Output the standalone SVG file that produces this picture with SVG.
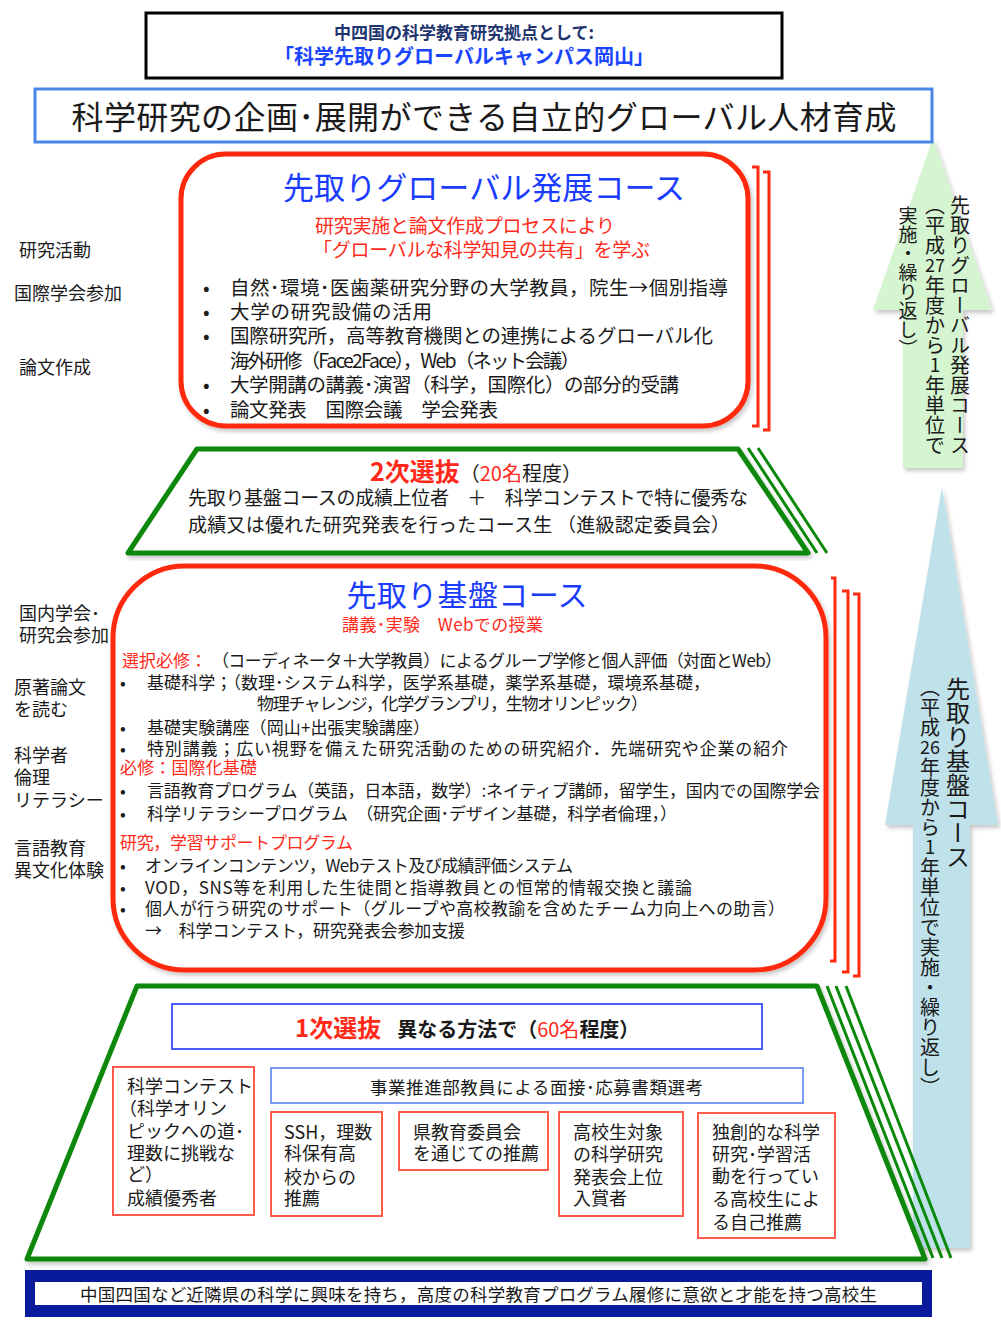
<svg xmlns="http://www.w3.org/2000/svg" width="1001" height="1336" viewBox="0 0 1001 1336">
<defs>
<filter id="sh" x="-5%" y="-5%" width="110%" height="112%"><feDropShadow dx="2" dy="3" stdDeviation="2" flood-color="#000" flood-opacity="0.22"/></filter>
</defs>
<style>
text{font-family:"Noto Sans CJK JP","Noto Sans CJK SC",sans-serif;fill:#1a1a1a}
.red{fill:#ff2a1a}
.blue{fill:#1a3cff}
.b{font-weight:bold}
.rbox{fill:#fff;stroke:#ff2a0f;stroke-width:5}
.brk{fill:none;stroke:#ff2a0f;stroke-width:3}
.grn{fill:#fff;stroke:#0a880a;stroke-width:5;stroke-linejoin:round}
.gln{stroke:#0a880a;stroke-width:3}
.sbox{fill:#fff;stroke:#ff5a4a;stroke-width:2}
.f17{font-size:17px}
.f18{font-size:18px}
.f19{font-size:19px}
.f195{font-size:19.5px}
.v{writing-mode:vertical-rl}
</style>
<rect width="1001" height="1336" fill="#fff"/>

<g id="connectors">
  <path d="M933,138 L992,310 L963,310 L963,468 L903,468 L903,310 L873,310 Z" fill="#d4f5cf" filter="url(#sh)"/>
  <path d="M942,487 L998,825 L970,825 L970,1248 L913,1248 L913,825 L885,825 Z" fill="#bfe1ea" filter="url(#sh)"/>
</g>

<g id="arrow-advanced-label">
  <text class="v" x="960" y="195" style="font-size:20px">先取りグローバル発展コース</text>
  <text class="v" x="935" y="195" style="font-size:20px">（平成</text>
  <text x="935" y="272" text-anchor="middle" style="font-size:18px">27</text>
  <text class="v" x="935" y="275" style="font-size:20px">年度から</text>
  <text x="935" y="372" text-anchor="middle" style="font-size:19px">1</text>
  <text class="v" x="935" y="375" style="font-size:20px">年単位で</text>
  <text class="v" x="908" y="206" style="font-size:19px">実施・繰り返し）</text>
</g>

<g id="arrow-basic-label">
  <text class="v" x="958" y="677" style="font-size:24px">先取り基盤コース</text>
  <text class="v" x="930" y="677" style="font-size:20px">（平成</text>
  <text x="930" y="754" text-anchor="middle" style="font-size:18px">26</text>
  <text class="v" x="930" y="757" style="font-size:20px">年度から</text>
  <text x="930" y="854" text-anchor="middle" style="font-size:19px">1</text>
  <text class="v" x="930" y="857" style="font-size:20px">年単位で実施・繰り返し）</text>
</g>

<g id="header">
  <rect x="146" y="13" width="636" height="65" fill="#fff" stroke="#000" stroke-width="3"/>
  <text x="464" y="39" text-anchor="middle" class="b" style="font-size:17px;fill:#1f3570">中四国の科学教育研究拠点として:</text>
  <text x="464" y="64" text-anchor="middle" class="b" style="font-size:20px;fill:#1a45ff">「科学先取りグローバルキャンパス岡山」</text>
</g>

<g id="goal">
  <rect x="35" y="89" width="897" height="53" fill="#fff" stroke="#4a86e8" stroke-width="3"/>
  <text x="484" y="129" text-anchor="middle" style="font-size:32px" textLength="825">科学研究の企画･展開ができる自立的グローバル人材育成</text>
</g>

<g id="course-advanced">
  <rect class="rbox" x="181" y="154" width="567" height="272" rx="45" filter="url(#sh)"/>
  <path class="brk" d="M752,167 H758 V426 H752"/>
  <path class="brk" d="M763,172 H769 V430 H763"/>
  <text x="484" y="199" text-anchor="middle" class="blue" style="font-size:31px" textLength="402">先取りグローバル発展コース</text>
  <text x="315" y="233" class="red f19" textLength="300">研究実施と論文作成プロセスにより</text>
  <text x="313" y="257" class="red f19" textLength="337">「グローバルな科学知見の共有」を学ぶ</text>
  <g class="f195">
    <text x="203" y="295">•</text><text x="230" y="295" textLength="498">自然･環境･医歯薬研究分野の大学教員，院生→個別指導</text>
    <text x="203" y="319">•</text><text x="230" y="319" textLength="202">大学の研究設備の活用</text>
    <text x="203" y="343">•</text><text x="230" y="343" textLength="483">国際研究所，高等教育機関との連携によるグローバル化</text>
    <text x="230" y="368" textLength="350">海外研修（Face2Face），Web（ネット会議）</text>
    <text x="203" y="392">•</text><text x="230" y="392" textLength="449">大学開講の講義･演習（科学，国際化）の部分的受講</text>
    <text x="203" y="417">•</text><text x="230" y="417" textLength="268">論文発表　国際会議　学会発表</text>
  </g>
</g>

<g id="labels-advanced" class="f18">
  <text x="19" y="257">研究活動</text>
  <text x="14" y="300">国際学会参加</text>
  <text x="19" y="374">論文作成</text>
</g>

<g id="selection-2">
  <polygon class="grn" points="197,449 738,449 808,553 128,553" filter="url(#sh)"/>
  <line class="gln" x1="748" y1="448" x2="817" y2="553"/>
  <line class="gln" x1="758" y1="448" x2="827" y2="553"/>
  <text x="370" y="481"><tspan class="red b" style="font-size:25px">2次選抜</tspan><tspan style="font-size:20px">（</tspan><tspan class="red" style="font-size:20px">20名</tspan><tspan style="font-size:20px">程度）</tspan></text>
  <text x="188" y="505" class="f19" textLength="560">先取り基盤コースの成績上位者　＋　科学コンテストで特に優秀な</text>
  <text x="188" y="532" class="f19" textLength="542">成績又は優れた研究発表を行ったコース生 （進級認定委員会）</text>
</g>

<g id="course-basic">
  <rect class="rbox" x="113" y="566" width="713" height="404" rx="72" filter="url(#sh)"/>
  <path class="brk" d="M831,578 H835 V961 H830"/>
  <path class="brk" d="M842,591 H848 V972 H842"/>
  <path class="brk" d="M853,594 H859 V976 H853"/>
  <text x="467" y="606" text-anchor="middle" class="blue" style="font-size:30px" textLength="241">先取り基盤コース</text>
  <text x="342" y="631" class="red f17" textLength="201">講義･実験　Webでの授業</text>
  <g class="f17">
    <text x="122" y="666.5"><tspan class="red">選択必修：</tspan></text>
    <text x="212" y="666.5" textLength="570">（コーディネータ＋大学教員）によるグループ学修と個人評価（対面とWeb）</text>
    <text x="120" y="688.5">•</text><text x="147" y="688.5" textLength="563">基礎科学；（数理･システム科学，医学系基礎，薬学系基礎，環境系基礎，</text>
    <text x="257" y="709.5" textLength="391">物理チャレンジ，化学グランプリ，生物オリンピック）</text>
    <text x="120" y="733.5">•</text><text x="147" y="733.5" textLength="283">基礎実験講座（岡山+出張実験講座）</text>
    <text x="120" y="754.5">•</text><text x="147" y="754.5" textLength="641">特別講義；広い視野を備えた研究活動のための研究紹介．先端研究や企業の紹介</text>
    <text x="120" y="773.5" class="red" textLength="137">必修：国際化基礎</text>
    <text x="120" y="796.5">•</text><text x="147" y="796.5" textLength="673">言語教育プログラム（英語，日本語，数学）:ネイティブ講師，留学生，国内での国際学会</text>
    <text x="120" y="819.5">•</text><text x="147" y="819.5" textLength="530">科学リテラシープログラム　（研究企画･デザイン基礎，科学者倫理，）</text>
    <text x="120" y="848.5" class="red" textLength="233">研究，学習サポートプログラム</text>
    <text x="120" y="871.5">•</text><text x="145" y="871.5" textLength="428">オンラインコンテンツ，Webテスト及び成績評価システム</text>
    <text x="120" y="893.5">•</text><text x="145" y="893.5" textLength="547">VOD，SNS等を利用した生徒間と指導教員との恒常的情報交換と議論</text>
    <text x="120" y="914.5">•</text><text x="145" y="914.5" textLength="640">個人が行う研究のサポート（グループや高校教諭を含めたチーム力向上への助言）</text>
    <text x="145" y="936.5" textLength="320">→　科学コンテスト，研究発表会参加支援</text>
  </g>
</g>

<g id="labels-basic" class="f18">
  <text x="19" y="620">国内学会･</text>
  <text x="19" y="642">研究会参加</text>
  <text x="14" y="694">原著論文</text>
  <text x="14" y="716">を読む</text>
  <text x="14" y="762">科学者</text>
  <text x="14" y="784">倫理</text>
  <text x="14" y="807">リテラシー</text>
  <text x="14" y="855">言語教育</text>
  <text x="14" y="877">異文化体験</text>
</g>

<g id="selection-1">
  <polygon class="grn" points="137,986 817,986 925,1259 27,1259" filter="url(#sh)"/>
  <line class="gln" x1="827" y1="986" x2="933" y2="1258"/>
  <line class="gln" x1="836" y1="986" x2="942" y2="1258"/>
  <line class="gln" x1="846" y1="986" x2="951" y2="1258"/>
  <rect x="172" y="1004" width="590" height="45" fill="#fff" stroke="#4a5cf5" stroke-width="2"/>
  <text x="295" y="1037"><tspan class="red b" style="font-size:24px">1次選抜</tspan><tspan class="b" style="font-size:20px" dx="16">異なる方法で（</tspan><tspan class="red" style="font-size:20px">60名</tspan><tspan class="b" style="font-size:20px">程度）</tspan></text>
  <rect x="271" y="1068" width="532" height="35" fill="#fff" stroke="#7a9cf0" stroke-width="2"/>
  <text x="370" y="1093.5" style="font-size:17.5px" textLength="333">事業推進部教員による面接･応募書類選考</text>
</g>

<g id="route-contest" class="f18">
  <rect class="sbox" x="113" y="1067" width="141" height="148"/>
  <text x="127" y="1093">科学コンテスト</text>
  <text x="119" y="1115">（科学オリン</text>
  <text x="127" y="1138">ピックへの道･</text>
  <text x="127" y="1160">理数に挑戦な</text>
  <text x="127" y="1181">ど）</text>
  <text x="127" y="1205">成績優秀者</text>
</g>

<g id="route-ssh" class="f18">
  <rect class="sbox" x="271" y="1112" width="111" height="104"/>
  <text x="284" y="1139">SSH，理数</text>
  <text x="284" y="1160">科保有高</text>
  <text x="284" y="1184">校からの</text>
  <text x="284" y="1205">推薦</text>
</g>

<g id="route-board" class="f18">
  <rect class="sbox" x="399" y="1112" width="149" height="58"/>
  <text x="413" y="1139">県教育委員会</text>
  <text x="413" y="1160">を通じての推薦</text>
</g>

<g id="route-presentation" class="f18">
  <rect class="sbox" x="559" y="1112" width="124" height="104"/>
  <text x="573" y="1139">高校生対象</text>
  <text x="573" y="1161">の科学研究</text>
  <text x="573" y="1184">発表会上位</text>
  <text x="573" y="1205">入賞者</text>
</g>

<g id="route-self" class="f18">
  <rect class="sbox" x="698" y="1113" width="137" height="125"/>
  <text x="712" y="1139">独創的な科学</text>
  <text x="712" y="1161">研究･学習活</text>
  <text x="712" y="1183">動を行ってい</text>
  <text x="712" y="1206">る高校生によ</text>
  <text x="712" y="1229">る自己推薦</text>
</g>

<g id="target-students">
  <rect x="25" y="1270" width="907" height="47" fill="#0a1a9c"/>
  <rect x="35" y="1282" width="887" height="23" fill="#fff"/>
  <text x="80" y="1300.5" style="font-size:17.5px" textLength="797">中国四国など近隣県の科学に興味を持ち，高度の科学教育プログラム履修に意欲と才能を持つ高校生</text>
</g>
</svg>
